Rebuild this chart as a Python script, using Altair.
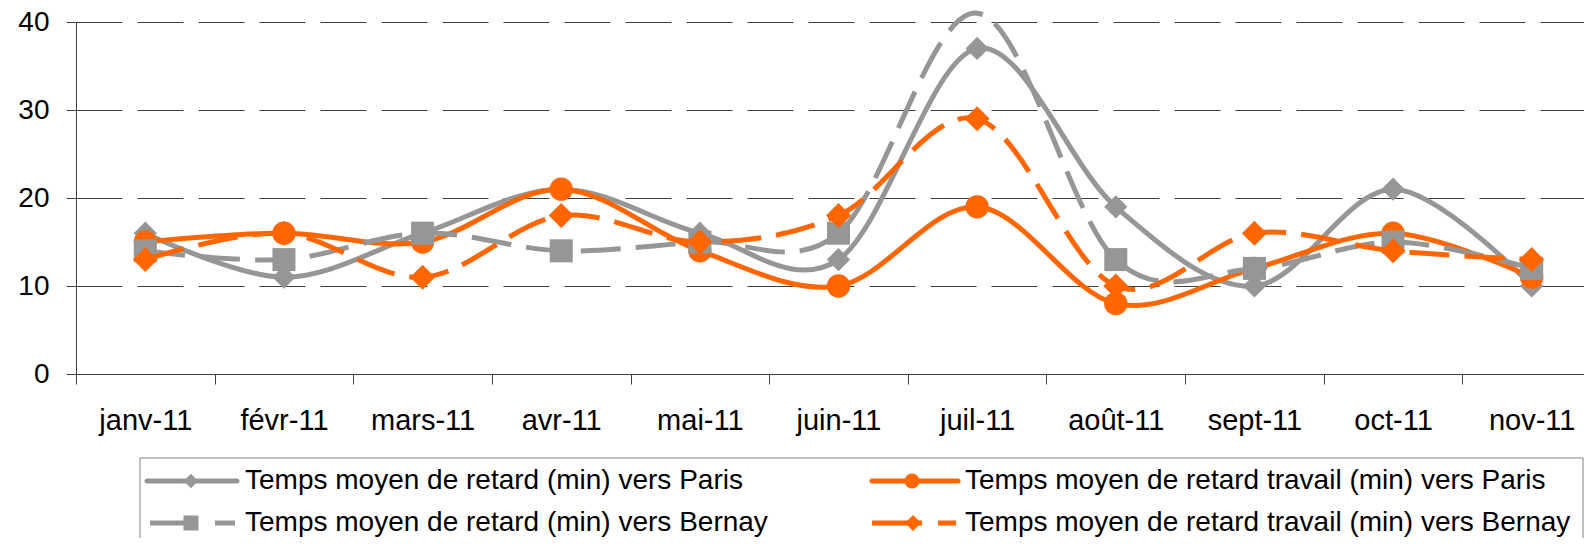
import altair as alt
import pandas as pd

months = ["janv-11", "févr-11", "mars-11", "avr-11", "mai-11", "juin-11",
          "juil-11", "août-11", "sept-11", "oct-11", "nov-11"]
retard_paris = [16, 11, 16, 21, 16, 13, 37, 19, 10, 21, 10]
travail_paris = [15, 16, 15, 21, 14, 10, 19, 8, 12, 16, 11]
retard_bernay = [14, 13, 16, 14, 15, 16, 41, 13, 12, 15, 12]
travail_bernay = [13, 16, 11, 18, 15, 18, 29, 10, 16, 14, 13]

names = [
    "Temps moyen de retard (min) vers Paris",
    "Temps moyen de retard travail (min) vers Paris",
    "Temps moyen de retard (min) vers Bernay",
    "Temps moyen de retard travail (min) vers Bernay",
]
values = [retard_paris, travail_paris, retard_bernay, travail_bernay]

GRAY = "#969696"
ORANGE = "#FF6600"
FONT = "Liberation Sans"

styles = [
    dict(color=GRAY, dash=None, shape="diamond", size=540, lsize=210),
    dict(color=ORANGE, dash=None, shape="circle", size=545, lsize=225),
    dict(color=GRAY, dash=[40, 15], shape="square", size=530, lsize=225),
    dict(color=ORANGE, dash=[40, 15], shape="diamond", size=625, lsize=260),
]

rows = []
for n, vals in zip(names, values):
    for m, v in zip(months, vals):
        rows.append({"month": m, "value": v, "series": n})
df = pd.DataFrame(rows)

x_enc = alt.X(
    "month:O", sort=months, title=None, bandPosition=0.5,
    scale=alt.Scale(type="band", domain=months, range=[0, 1525],
                    paddingInner=0, paddingOuter=0),
    axis=alt.Axis(tickBand="extent", labelAngle=0, tickSize=10, labelPadding=22,
                  labelFontSize=29, labelFont=FONT, labelColor="black",
                  domainColor="#404040", tickColor="#404040", grid=False,
                  labelOverlap=False),
)
y_enc = alt.Y(
    "value:Q", title=None,
    scale=alt.Scale(domain=[0, 40], nice=False),
    axis=alt.Axis(values=[0, 10, 20, 30, 40], grid=True, gridDash=[46, 15],
                  gridColor="#404040", gridWidth=1, tickSize=10, labelPadding=17,
                  labelFontSize=28, labelFont=FONT, labelColor="black",
                  domainColor="#404040", tickColor="#404040"),
)

layers = []
for n, st in zip(names, styles):
    base = alt.Chart(df).transform_filter(alt.datum.series == n)
    line_kwargs = dict(color=st["color"], strokeWidth=5, interpolate="cardinal",
                       strokeJoin="round")
    if st["dash"]:
        line_kwargs["strokeDash"] = st["dash"]
        line_kwargs["strokeCap"] = "butt"
    else:
        line_kwargs["strokeCap"] = "round"
    layers.append(base.mark_line(**line_kwargs).encode(x=x_enc, y=y_enc))
    layers.append(
        base.transform_filter(alt.datum.value <= 40)
        .mark_point(shape=st["shape"], filled=True, size=st["size"],
                    color=st["color"], opacity=1, strokeWidth=0)
        .encode(x=x_enc, y=y_enc)
    )

# Legend (drawn by hand, in pixel positions relative to the plot area)
one = pd.DataFrame({"a": [0]})
layers.append(
    alt.Chart(one).mark_rect(fillOpacity=0, stroke="#808080", strokeWidth=1)
    .encode(x=alt.value(64), x2=alt.value(1507), y=alt.value(436), y2=alt.value(600))
)
legend_pos = [
    dict(x1=71, x2=161, mx=115, tx=169, y=459, dash=None),
    dict(x1=796, x2=882, mx=836, tx=889, y=459, dash=None),
    dict(x1=74, x2=159, mx=115, tx=169, y=501, dash=[48, 17]),
    dict(x1=796, x2=880, mx=837, tx=889, y=501, dash=[50, 16]),
]
for n, st, p in zip(names, styles, legend_pos):
    rk = dict(color=st["color"], strokeWidth=5)
    if p["dash"]:
        rk["strokeDash"] = p["dash"]
        rk["strokeCap"] = "butt"
    else:
        rk["strokeCap"] = "round"
    layers.append(
        alt.Chart(one).mark_rule(**rk)
        .encode(x=alt.value(p["x1"]), x2=alt.value(p["x2"]), y=alt.value(p["y"]))
    )
    layers.append(
        alt.Chart(one).mark_point(shape=st["shape"], filled=True, size=st["lsize"],
                                  color=st["color"], opacity=1, strokeWidth=0)
        .encode(x=alt.value(p["mx"]), y=alt.value(p["y"]))
    )
    layers.append(
        alt.Chart(one).mark_text(align="left", baseline="middle", fontSize=28,
                                 font=FONT, color="black")
        .encode(x=alt.value(p["tx"]), y=alt.value(p["y"]), text=alt.value(n))
    )

chart = alt.layer(*layers).properties(
    width=1508, height=352,
    autosize=alt.AutoSizeParams(type="none"),
    padding={"left": 68, "top": 14, "right": 0, "bottom": 164},
).configure_view(stroke=None)

chart.save("out.html", embed_options={"renderer": "svg", "actions": False})
